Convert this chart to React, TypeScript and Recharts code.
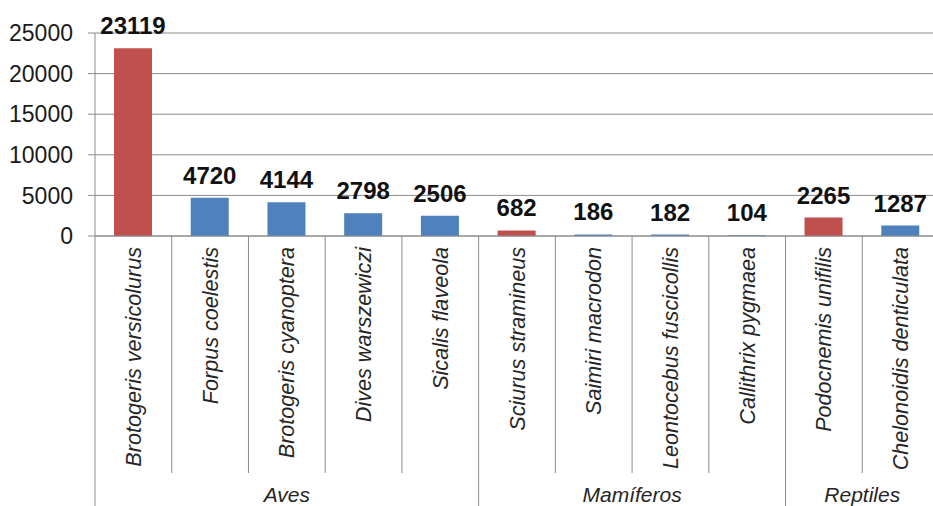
import { BarChart, Bar, XAxis, YAxis, CartesianGrid, Cell, LabelList } from 'recharts'

const species = [
  'Brotogeris versicolurus',
  'Forpus coelestis',
  'Brotogeris cyanoptera',
  'Dives warszewiczi',
  'Sicalis flaveola',
  'Sciurus stramineus',
  'Saimiri macrodon',
  'Leontocebus fuscicollis',
  'Callithrix pygmaea',
  'Podocnemis unifilis',
  'Chelonoidis denticulata',
]
const counts = [23119, 4720, 4144, 2798, 2506, 682, 186, 182, 104, 2265, 1287]
const groups = ['Aves', 'Aves', 'Aves', 'Aves', 'Aves', 'Mamíferos', 'Mamíferos', 'Mamíferos', 'Mamíferos', 'Reptiles', 'Reptiles']
const highlighted = ['Brotogeris versicolurus', 'Sciurus stramineus', 'Podocnemis unifilis']
const yTicks = [0, 5000, 10000, 15000, 20000, 25000]

const data = species.map((name, i) => ({ name, value: counts[i], group: groups[i] }))

const W = 940
const H = 506
const LEFT = 95
const TOP = 33
const AXIS_H = 270
const BAND = (W - LEFT - 1) / species.length
const BASE = H - AXIS_H
const LINE = '#8c8c8c'
const FONT = '"Liberation Sans", Arial, sans-serif'

function SpeciesTick(props: any) {
  const { x, index, payload } = props
  const left = x - BAND / 2
  const g = groups[index]
  const first = index === 0 || groups[index - 1] !== g
  const last = index === species.length - 1
  const span = groups.filter(v => v === g).length
  return (
    <g>
      <line x1={left} x2={left} y1={BASE} y2={first ? H : 473} stroke={LINE} strokeWidth={1} />
      {last && <line x1={left + BAND} x2={left + BAND} y1={BASE} y2={H} stroke={LINE} strokeWidth={1} />}
      <g transform={`translate(${x},${BASE + 11}) rotate(-90)`}>
        <text x={0} y={0} dy="0.35em" textAnchor="end" fontStyle="italic" fontSize={21.6} fontFamily={FONT} fill="#262626">
          {payload.value}
        </text>
      </g>
      {first && (
        <text x={left + (span * BAND) / 2} y={502} textAnchor="middle" fontStyle="italic" fontSize={21} fontFamily={FONT} fill="#262626">
          {g}
        </text>
      )}
    </g>
  )
}

export default function App() {
  return (
    <div style={{ position: 'absolute', left: 0, top: 0, width: 933, height: 506, overflow: 'hidden', background: '#fff' }}>
      <BarChart width={W} height={H} data={data} margin={{ top: TOP, right: 1, bottom: 0, left: 0 }}>
        <CartesianGrid vertical={false} stroke={LINE} strokeWidth={1} />
        <XAxis
          dataKey="name"
          interval={0}
          height={AXIS_H}
          tickLine={false}
          tickSize={0}
          axisLine={{ stroke: LINE }}
          tick={<SpeciesTick />}
        />
        <YAxis
          width={LEFT}
          domain={[0, 25000]}
          ticks={yTicks}
          tickSize={7}
          tickMargin={15}
          tickLine={{ stroke: LINE }}
          axisLine={{ stroke: LINE }}
          tick={{ fontSize: 23, fontFamily: FONT, fill: '#1a1a1a' }}
        />
        <Bar dataKey="value" barSize={38} isAnimationActive={false}>
          {data.map(d => (
            <Cell key={d.name} fill={highlighted.includes(d.name) ? '#C0504D' : '#4F81BD'} />
          ))}
          <LabelList dataKey="value" position="top" offset={14} fontSize={24} fontWeight="bold" fontFamily={FONT} fill="#111" />
        </Bar>
      </BarChart>
    </div>
  )
}
